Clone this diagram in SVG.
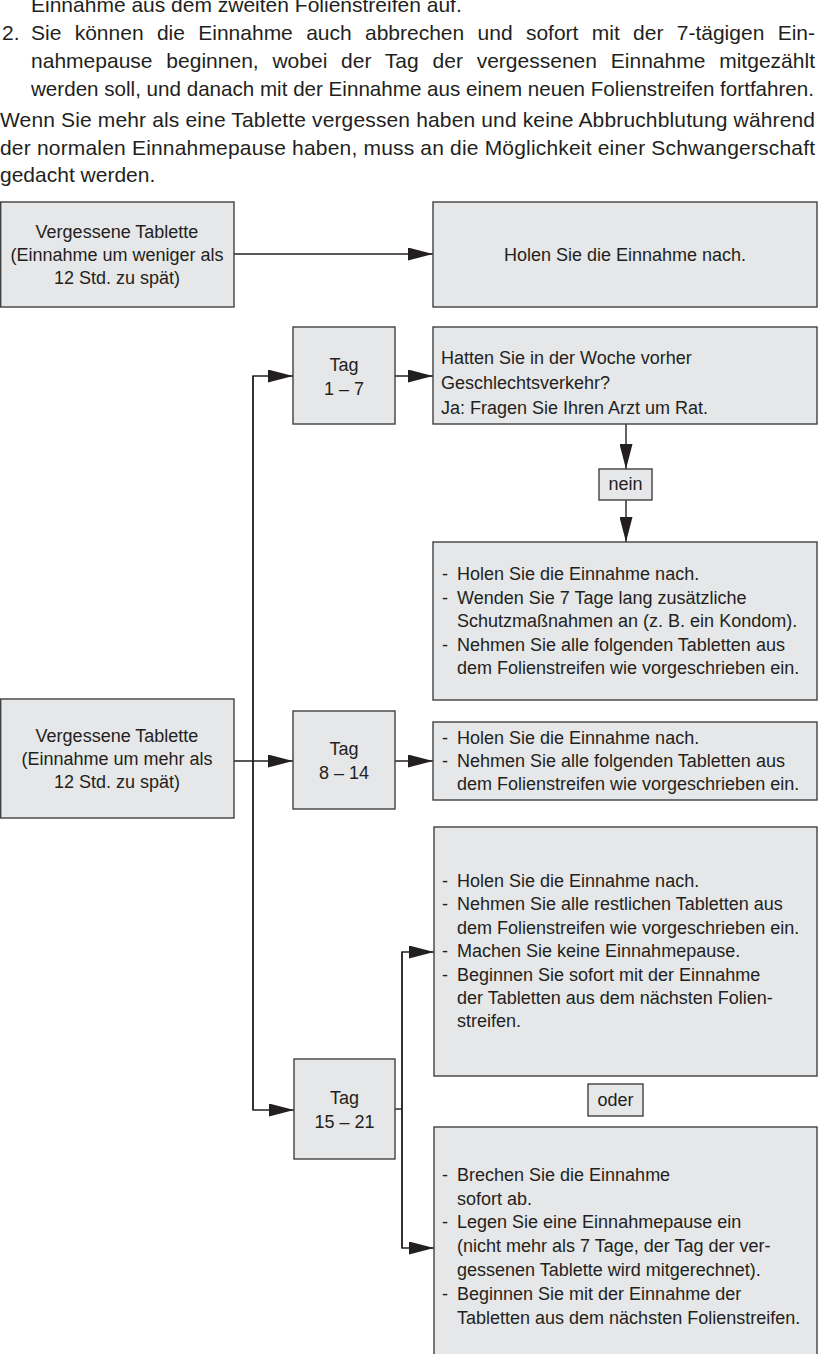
<svg xmlns="http://www.w3.org/2000/svg" width="820" height="1354" viewBox="0 0 820 1354">
<style>
  .p { font-family: "Liberation Sans", Arial, sans-serif; font-size: 21px; fill: #231f20; }
  .t { font-family: "Liberation Sans", Arial, sans-serif; font-size: 18px; fill: #231f20; }
  .c { text-anchor: middle; }
  .box { fill: #e6e7e8; stroke: #414042; stroke-width: 1.4; }
  .con { fill: none; stroke: #231f20; stroke-width: 1.4; }
</style>
<defs>
  <marker id="ah" markerUnits="userSpaceOnUse" markerWidth="25" markerHeight="13" refX="25" refY="6.5" orient="auto">
    <path d="M0,0 L25,6.5 L0,13 z" fill="#231f20"/>
  </marker>
</defs>
<rect width="820" height="1354" fill="#ffffff"/>

<g id="intro">
  <text class="p" x="31" y="12">Einnahme aus dem zweiten Folienstreifen auf.</text>
  <text class="p" x="2" y="40">2.</text>
  <text class="p" x="31" y="40" word-spacing="7.5" textLength="784" lengthAdjust="spacing">Sie können die Einnahme auch abbrechen und sofort mit der 7-tägigen Ein-</text>
  <text class="p" x="31" y="68" word-spacing="7.9" textLength="784" lengthAdjust="spacing">nahmepause beginnen, wobei der Tag der vergessenen Einnahme mitgezählt</text>
  <text class="p" x="31" y="96" textLength="783" lengthAdjust="spacingAndGlyphs">werden soll, und danach mit der Einnahme aus einem neuen Folienstreifen fortfahren.</text>
  <text class="p" x="0" y="127" textLength="815" lengthAdjust="spacing">Wenn Sie mehr als eine Tablette vergessen haben und keine Abbruchblutung während</text>
  <text class="p" x="0" y="155" textLength="815" lengthAdjust="spacing">der normalen Einnahmepause haben, muss an die Möglichkeit einer Schwangerschaft</text>
  <text class="p" x="0" y="182">gedacht werden.</text>
</g>

<g id="connectors">
  <path class="con" d="M234,254 H433" marker-end="url(#ah)"/>
  <path class="con" d="M253,1110 V376 H293" marker-end="url(#ah)"/>
  <path class="con" d="M253,376 V1110 H294" marker-end="url(#ah)"/>
  <path class="con" d="M234,761 H293" marker-end="url(#ah)"/>
  <path class="con" d="M395,376 H433" marker-end="url(#ah)"/>
  <path class="con" d="M626,424 V469" marker-end="url(#ah)"/>
  <path class="con" d="M626,500 V542" marker-end="url(#ah)"/>
  <path class="con" d="M395,761 H433" marker-end="url(#ah)"/>
  <path class="con" d="M395,1109 H402"/>
  <path class="con" d="M402,1248 V952 H434" marker-end="url(#ah)"/>
  <path class="con" d="M402,952 V1248 H434" marker-end="url(#ah)"/>
</g>

<g id="n-vergessen-weniger">
  <rect class="box" x="0.7" y="202" width="233.3" height="105"/>
  <text class="t c" x="117" y="238">Vergessene Tablette</text>
  <text class="t c" x="117" y="261">(Einnahme um weniger als</text>
  <text class="t c" x="117" y="284">12 Std. zu spät)</text>
</g>

<g id="n-nachholen">
  <rect class="box" x="433" y="202" width="384" height="105"/>
  <text class="t c" x="625" y="261">Holen Sie die Einnahme nach.</text>
</g>

<g id="n-tag-1-7">
  <rect class="box" x="293" y="327" width="102" height="97"/>
  <text class="t c" x="344" y="371">Tag</text>
  <text class="t c" x="344" y="395">1 – 7</text>
</g>

<g id="n-frage">
  <rect class="box" x="433" y="327" width="384" height="97"/>
  <text class="t" x="441" y="364">Hatten Sie in der Woche vorher</text>
  <text class="t" x="441" y="389">Geschlechtsverkehr?</text>
  <text class="t" x="441" y="414">Ja: Fragen Sie Ihren Arzt um Rat.</text>
</g>

<g id="n-nein">
  <rect class="box" x="599" y="469" width="53" height="31"/>
  <text class="t c" x="625.5" y="490">nein</text>
</g>

<g id="n-massnahmen-1-7">
  <rect class="box" x="433" y="542" width="384" height="158"/>
  <text class="t" x="442" y="580">-</text><text class="t" x="457" y="580">Holen Sie die Einnahme nach.</text>
  <text class="t" x="442" y="603.5">-</text><text class="t" x="457" y="603.5">Wenden Sie 7 Tage lang zusätzliche</text>
  <text class="t" x="457" y="627">Schutzmaßnahmen an (z. B. ein Kondom).</text>
  <text class="t" x="442" y="650.5">-</text><text class="t" x="457" y="650.5">Nehmen Sie alle folgenden Tabletten aus</text>
  <text class="t" x="457" y="674">dem Folienstreifen wie vorgeschrieben ein.</text>
</g>

<g id="n-vergessen-mehr">
  <rect class="box" x="0.7" y="699" width="233.3" height="119"/>
  <text class="t c" x="117" y="742">Vergessene Tablette</text>
  <text class="t c" x="117" y="765">(Einnahme um mehr als</text>
  <text class="t c" x="117" y="788">12 Std. zu spät)</text>
</g>

<g id="n-tag-8-14">
  <rect class="box" x="293" y="711" width="102" height="98"/>
  <text class="t c" x="344" y="755">Tag</text>
  <text class="t c" x="344" y="779">8 – 14</text>
</g>

<g id="n-massnahmen-8-14">
  <rect class="box" x="433" y="722" width="384" height="78"/>
  <text class="t" x="442" y="744">-</text><text class="t" x="457" y="744">Holen Sie die Einnahme nach.</text>
  <text class="t" x="442" y="767">-</text><text class="t" x="457" y="767">Nehmen Sie alle folgenden Tabletten aus</text>
  <text class="t" x="457" y="790">dem Folienstreifen wie vorgeschrieben ein.</text>
</g>

<g id="n-option-1">
  <rect class="box" x="434" y="827" width="383" height="249"/>
  <text class="t" x="442" y="887">-</text><text class="t" x="457" y="887">Holen Sie die Einnahme nach.</text>
  <text class="t" x="442" y="910.4">-</text><text class="t" x="457" y="910.4">Nehmen Sie alle restlichen Tabletten aus</text>
  <text class="t" x="457" y="933.8">dem Folienstreifen wie vorgeschrieben ein.</text>
  <text class="t" x="442" y="957.2">-</text><text class="t" x="457" y="957.2">Machen Sie keine Einnahmepause.</text>
  <text class="t" x="442" y="980.6">-</text><text class="t" x="457" y="980.6">Beginnen Sie sofort mit der Einnahme</text>
  <text class="t" x="457" y="1004">der Tabletten aus dem nächsten Folien-</text>
  <text class="t" x="457" y="1027.4">streifen.</text>
</g>

<g id="n-tag-15-21">
  <rect class="box" x="294" y="1059" width="101" height="100"/>
  <text class="t c" x="344.5" y="1104">Tag</text>
  <text class="t c" x="344.5" y="1128">15 – 21</text>
</g>

<g id="n-oder">
  <rect class="box" x="588" y="1084" width="55" height="32"/>
  <text class="t c" x="615.5" y="1106">oder</text>
</g>

<g id="n-option-2">
  <rect class="box" x="434" y="1127" width="383" height="260"/>
  <text class="t" x="442" y="1181">-</text><text class="t" x="457" y="1181">Brechen Sie die Einnahme</text>
  <text class="t" x="457" y="1205">sofort ab.</text>
  <text class="t" x="442" y="1228">-</text><text class="t" x="457" y="1228">Legen Sie eine Einnahmepause ein</text>
  <text class="t" x="457" y="1252">(nicht mehr als 7 Tage, der Tag der ver-</text>
  <text class="t" x="457" y="1276">gessenen Tablette wird mitgerechnet).</text>
  <text class="t" x="442" y="1300">-</text><text class="t" x="457" y="1300">Beginnen Sie mit der Einnahme der</text>
  <text class="t" x="457" y="1324">Tabletten aus dem nächsten Folienstreifen.</text>
</g>
</svg>
